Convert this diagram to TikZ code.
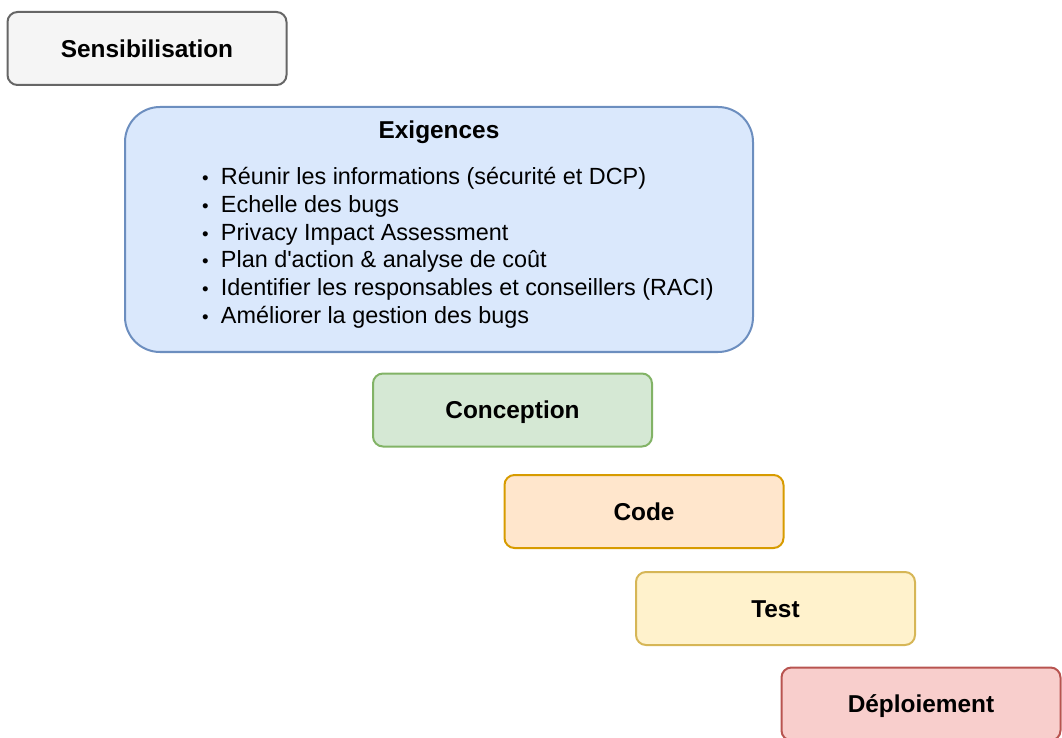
\documentclass[tikz,border=0pt]{standalone}
\usepackage{fontspec}
\setmainfont{Liberation Sans}
\usetikzlibrary{calc}

\definecolor{sensfill}{HTML}{F5F5F5}
\definecolor{sensline}{HTML}{666666}
\definecolor{exigfill}{HTML}{DAE8FC}
\definecolor{exigline}{HTML}{6C8EBF}
\definecolor{concfill}{HTML}{D5E8D4}
\definecolor{concline}{HTML}{82B366}
\definecolor{codefill}{HTML}{FFE6CC}
\definecolor{codeline}{HTML}{D79B00}
\definecolor{testfill}{HTML}{FFF2CC}
\definecolor{testline}{HTML}{D6B656}
\definecolor{deplfill}{HTML}{F8CECC}
\definecolor{deplline}{HTML}{B85450}

\newcommand{\itemdot}{\scalebox{0.8}{\textbullet}\hspace{6.2pt}}

\begin{document}
\begin{tikzpicture}[x=0.5pt,y=-0.5pt,line width=1pt,
  phase/.style={draw,rounded corners=5pt,minimum width=139.5pt,minimum height=36.5pt,
    font=\fontsize{12.2}{14}\selectfont\bfseries,text height=8.7pt,text depth=0pt},
  item/.style={anchor=base west,inner sep=0pt,font=\fontsize{11.7}{14}\selectfont}]

\useasboundingbox (0,0) rectangle (1062,738);

\node[phase,fill=sensfill,draw=sensline](sens) at (147,48.5) {Sensibilisation};

\node[draw=exigline,fill=exigfill,rounded corners=17.5pt,
  minimum width=314pt,minimum height=122.5pt](exig) at (439,229.5) {};
\node[anchor=base,font=\fontsize{12.2}{14}\selectfont\bfseries](extitle) at ($(exig.north)+(0,33)$) {Exigences};
\node[item](ex1) at (201,185) {\itemdot R\'eunir les informations (s\'ecurit\'e et DCP)};
\node[item](ex2) at ($(ex1.base west)+(0,27.6)$) {\itemdot Echelle des bugs};
\node[item](ex3) at ($(ex2.base west)+(0,27.6)$) {\itemdot Privacy Impact Assessment};
\node[item](ex4) at ($(ex3.base west)+(0,27.6)$) {\itemdot Plan d\textquotesingle action \& analyse de co\^ut};
\node[item](ex5) at ($(ex4.base west)+(0,27.6)$) {\itemdot Identifier les responsables et conseillers (RACI)};
\node[item](ex6) at ($(ex5.base west)+(0,27.6)$) {\itemdot Am\'eliorer la gestion des bugs};

\node[phase,fill=concfill,draw=concline](conc) at (512.5,410) {Conception};
\node[phase,fill=codefill,draw=codeline](code) at ($(conc)+(131.5,101.5)$) {Code};
\node[phase,fill=testfill,draw=testline](test) at ($(code)+(131.5,97)$) {Test};
\node[phase,fill=deplfill,draw=deplline](depl) at ($(test)+(145.5,95.5)$) {D\'eploiement};
\end{tikzpicture}
\end{document}
